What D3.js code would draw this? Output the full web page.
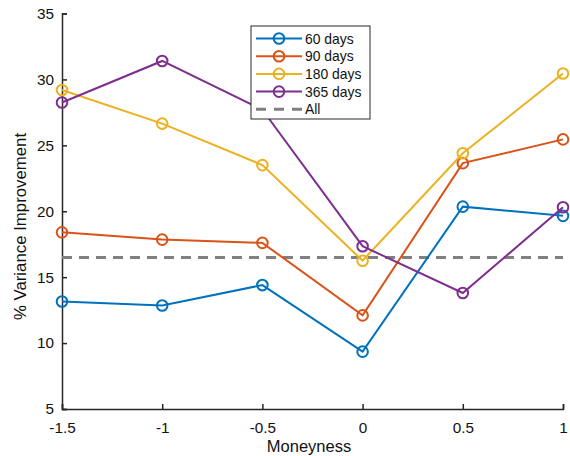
<!DOCTYPE html>
<html><head><meta charset="utf-8">
<script src="https://cdn.jsdelivr.net/npm/d3@7"></script>
<style>body{margin:0;background:#fff}svg{display:block}</style>
</head><body>
<script>
const moneyness = [-1.5, -1, -0.5, 0, 0.5, 1];
const seriesNames = ["60 days", "90 days", "180 days", "365 days"];
const days60  = [13.15, 12.85, 14.4, 9.35, 20.35, 19.65];
const days90  = [18.4, 17.85, 17.6, 12.1, 23.65, 25.45];
const days180 = [29.2, 26.65, 23.5, 16.25, 24.4, 30.45];
const days365 = [28.25, 31.4, 27.7, 17.35, 13.8, 20.3];
const allLevel = 16.5;
const xTicks = [-1.5, -1, -0.5, 0, 0.5, 1];
const yTicks = [5, 10, 15, 20, 25, 30, 35];
const colors = ["#0072BD", "#D95319", "#EDB120", "#7E2F8E"];

const W = 570, H = 456;
const svg = d3.select("body").append("svg").attr("width", W).attr("height", H)
  .style("font-family", "Liberation Sans, Arial, sans-serif");

const x = d3.scaleLinear().domain([-1.5, 1]).range([62, 563]);
const y = d3.scaleLinear().domain([5, 35]).range([409, 13.5]);

const axisColor = "#262626";
const gx = svg.append("g").attr("transform", `translate(0,${y(5)})`)
  .call(d3.axisBottom(x).tickValues(xTicks).tickSize(-5).tickPadding(13)
    .tickFormat(d => d3.format("")(d).replace("−", "-")));
const gy = svg.append("g").attr("transform", `translate(${x(-1.5)},0)`)
  .call(d3.axisLeft(y).tickValues(yTicks).tickSize(-5).tickPadding(8));
[gx, gy].forEach(g => {
  g.select(".domain").attr("stroke", axisColor).attr("stroke-width", 1.5);
  g.selectAll(".tick line").attr("stroke", axisColor).attr("stroke-width", 1.5);
  g.selectAll(".tick text").attr("fill", "#111").style("font-size", "15.3px")
    .style("font-family", "Liberation Sans, Arial, sans-serif");
});

// dashed All line
svg.append("line").attr("x1", x(-1.5)).attr("x2", x(1))
  .attr("y1", y(allLevel)).attr("y2", y(allLevel))
  .attr("stroke", "#808080").attr("stroke-width", 3).attr("stroke-dasharray", "10,7");

const data = [days60, days90, days180, days365];
const line = d3.line().x((d, i) => x(moneyness[i])).y(d => y(d));
data.forEach((vals, k) => {
  svg.append("path").datum(vals).attr("d", line).attr("fill", "none")
    .attr("stroke", colors[k]).attr("stroke-width", 2);
  svg.selectAll(null).data(vals).enter().append("circle")
    .attr("cx", (d, i) => x(moneyness[i])).attr("cy", d => y(d)).attr("r", 5.3)
    .attr("fill", "none").attr("stroke", colors[k]).attr("stroke-width", 2);
});

// axis labels
svg.append("text").attr("x", 309).attr("y", 452).attr("text-anchor", "middle")
  .style("font-size", "16.5px").attr("fill", "#111").text("Moneyness");
svg.append("text").attr("transform", `translate(26,226.5) rotate(-90)`)
  .attr("text-anchor", "middle").style("font-size", "16.8px").attr("fill", "#111")
  .text("% Variance Improvement");

// legend
const lg = svg.append("g");
lg.append("rect").attr("x", 251).attr("y", 26).attr("width", 119).attr("height", 93)
  .attr("fill", "#fff").attr("stroke", "#262626").attr("stroke-width", 1);
const labels = seriesNames.concat(["All"]);
labels.forEach((lab, i) => {
  const yy = 38.5 + i * 17.7;
  if (i < 4) {
    lg.append("line").attr("x1", 256).attr("x2", 302).attr("y1", yy).attr("y2", yy)
      .attr("stroke", colors[i]).attr("stroke-width", 2);
    lg.append("circle").attr("cx", 279).attr("cy", yy).attr("r", 5.3)
      .attr("fill", "none").attr("stroke", colors[i]).attr("stroke-width", 2);
  } else {
    lg.append("line").attr("x1", 256).attr("x2", 302).attr("y1", yy).attr("y2", yy)
      .attr("stroke", "#808080").attr("stroke-width", 3).attr("stroke-dasharray", "10,8");
  }
  lg.append("text").attr("x", 305).attr("y", yy + 5).style("font-size", "13.9px")
    .attr("fill", "#111").text(lab);
});
</script>
</body></html>
